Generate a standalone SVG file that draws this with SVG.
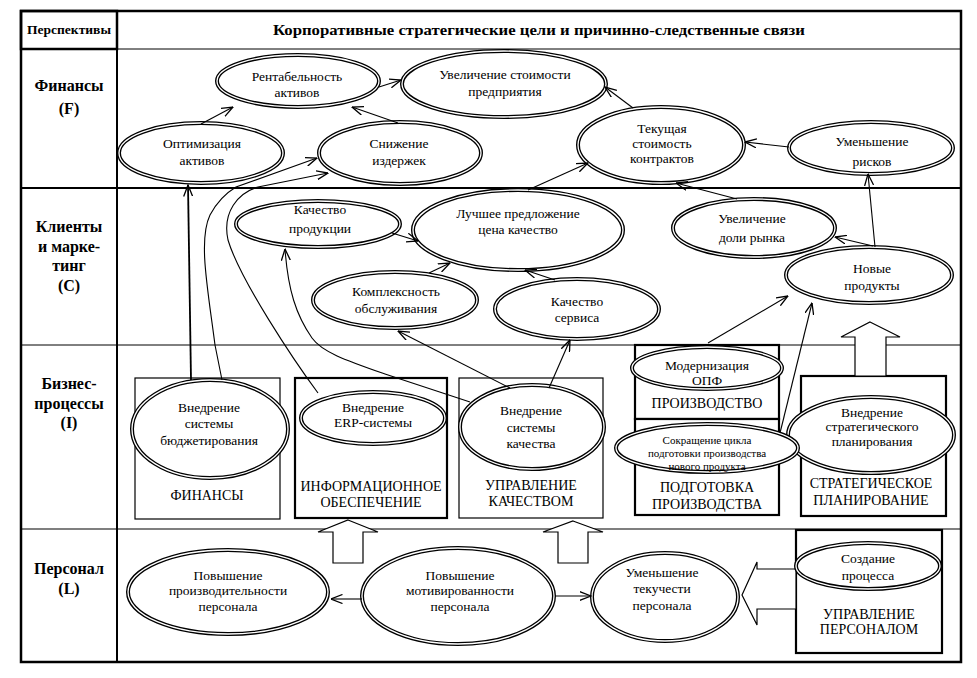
<svg xmlns="http://www.w3.org/2000/svg" width="977" height="678" viewBox="0 0 977 678" font-family="'Liberation Serif','DejaVu Serif','Times New Roman',serif">
<defs>
<style>
text{font-family:'Liberation Serif','DejaVu Serif','Times New Roman',serif;fill:#000;text-anchor:middle}
.t{font-size:13.5px}
.s{font-size:11px}
.u{font-size:14px}
.b{font-size:16px;font-weight:bold}
.eo{fill:#fff;stroke:#000;stroke-width:4}
.ei{fill:none;stroke:#fff;stroke-width:1.3}
.c{fill:none;stroke:#000;stroke-width:1.1;marker-end:url(#ah)}
.bx{fill:#fff;stroke:#000;stroke-width:1.2}
.bxt{fill:#fff;stroke:#000;stroke-width:2.2}
.ba{fill:#fff;stroke:#000;stroke-width:1.2}
.ln{stroke:#000;fill:none}
</style>
<marker id="ah" viewBox="0 0 12 10" refX="11.5" refY="5" markerWidth="12" markerHeight="10" orient="auto" markerUnits="userSpaceOnUse">
<path d="M0,0.5 L11.5,5 L0,9.5" fill="none" stroke="#000" stroke-width="1.3"/>
</marker>
</defs>
<rect width="977" height="678" fill="#fff"/>

<g id="table">
<rect x="21" y="11" width="940" height="651" class="ln" stroke-width="2.5"/>
<rect x="21" y="11" width="96" height="38" class="ln" stroke-width="2.5"/>
<line x1="117" y1="49" x2="961" y2="49" class="ln" stroke-width="1"/>
<line x1="117" y1="49" x2="117" y2="662" class="ln" stroke-width="2"/>
<line x1="21" y1="188" x2="961" y2="188" class="ln" stroke-width="2"/>
<line x1="21" y1="345" x2="961" y2="345" class="ln" stroke-width="1"/>
<line x1="21" y1="529" x2="961" y2="529" class="ln" stroke-width="1.2"/>
<text x="69" y="34" style="font-size:13px;font-weight:bold" textLength="84" lengthAdjust="spacingAndGlyphs">Перспективы</text>
<text x="539" y="35" style="font-size:15.5px;font-weight:bold" textLength="532" lengthAdjust="spacingAndGlyphs">Корпоративные стратегические цели и причинно-следственные связи</text>
<text class="b" x="69" y="91">Финансы</text>
<text class="b" x="69" y="114">(F)</text>
<text class="b" x="69" y="232">Клиенты</text>
<text class="b" x="69" y="252">и марке-</text>
<text class="b" x="69" y="271">тинг</text>
<text class="b" x="69" y="291">(C)</text>
<text class="b" x="69" y="389">Бизнес-</text>
<text class="b" x="69" y="409">процессы</text>
<text class="b" x="69" y="428">(I)</text>
<text class="b" x="69" y="574">Персонал</text>
<text class="b" x="69" y="594">(L)</text>
</g>

<g id="areas">
<g id="box-fin"><rect x="135" y="378" width="145" height="141" class="bx"/><text class="u" x="207" y="500">ФИНАНСЫ</text></g>
<g id="box-info"><rect x="295" y="378" width="152" height="140" class="bxt"/><text class="u" x="371" y="491">ИНФОРМАЦИОННОЕ</text><text class="u" x="371" y="507">ОБЕСПЕЧЕНИЕ</text></g>
<g id="box-qual"><rect x="459" y="378" width="144" height="140" class="bx"/><text class="u" x="531" y="490">УПРАВЛЕНИЕ</text><text class="u" x="531" y="506">КАЧЕСТВОМ</text></g>
<g id="box-prod"><rect x="635" y="345" width="144" height="74" class="bxt"/><text class="u" x="707" y="408">ПРОИЗВОДСТВО</text></g>
<g id="box-prep"><rect x="635" y="419" width="144" height="96" class="bxt"/><text class="u" x="707" y="492">ПОДГОТОВКА</text><text class="u" x="707" y="509">ПРОИЗВОДСТВА</text></g>
<g id="box-strat"><rect x="801" y="376" width="145" height="140" class="bxt"/><text class="u" x="871" y="488">СТРАТЕГИЧЕСКОЕ</text><text class="u" x="871" y="505">ПЛАНИРОВАНИЕ</text></g>
<g id="box-hr"><rect x="796" y="530" width="146" height="123" class="bxt"/><text class="u" x="869" y="619">УПРАВЛЕНИЕ</text><text class="u" x="869" y="634">ПЕРСОНАЛОМ</text></g>
</g>

<g id="block-arrows">
<polygon class="ba" points="348,520 378,532 363,532 363,563 333,563 333,532 318,532"/>
<polygon class="ba" points="573,521 603,532 588,532 588,563 558,563 558,532 543,532"/>
<polygon class="ba" points="870,322 900,337 886,337 886,376 855,376 855,337 841,337"/>
<polygon class="ba" points="742,595 757,562 757,569 796,569 796,609 757,609 757,625"/>
</g>

<g id="n1"><ellipse class="eo" cx="298" cy="81" rx="81" ry="26"/><ellipse class="ei" cx="298" cy="81" rx="81" ry="26"/><text class="t" x="297" y="81">Рентабельность</text><text class="t" x="297" y="97">активов</text></g>
<g id="n2"><ellipse class="eo" cx="504" cy="84" rx="102" ry="33"/><ellipse class="ei" cx="504" cy="84" rx="102" ry="33"/><text class="t" x="505" y="79">Увеличение стоимости</text><text class="t" x="505" y="96">предприятия</text></g>
<g id="n3"><ellipse class="eo" cx="201" cy="153" rx="82" ry="30"/><ellipse class="ei" cx="201" cy="153" rx="82" ry="30"/><text class="t" x="202" y="148">Оптимизация</text><text class="t" x="202" y="165">активов</text></g>
<g id="n4"><ellipse class="eo" cx="400" cy="153" rx="81" ry="31"/><ellipse class="ei" cx="400" cy="153" rx="81" ry="31"/><text class="t" x="399" y="148">Снижение</text><text class="t" x="399" y="165">издержек</text></g>
<g id="n5"><ellipse class="eo" cx="661" cy="145" rx="83" ry="38"/><ellipse class="ei" cx="661" cy="145" rx="83" ry="38"/><text class="t" x="662" y="133">Текущая</text><text class="t" x="662" y="148">стоимость</text><text class="t" x="662" y="163">контрактов</text></g>
<g id="n6"><ellipse class="eo" cx="871" cy="148" rx="82" ry="26"/><ellipse class="ei" cx="871" cy="148" rx="82" ry="26"/><text class="t" x="872" y="146">Уменьшение</text><text class="t" x="872" y="166">рисков</text></g>

<g id="n7"><ellipse class="eo" cx="318" cy="224" rx="82" ry="23"/><ellipse class="ei" cx="318" cy="224" rx="82" ry="23"/><text class="t" x="320" y="214">Качество</text><text class="t" x="320" y="233">продукции</text></g>
<g id="n8"><ellipse class="eo" cx="518" cy="230" rx="105" ry="40"/><ellipse class="ei" cx="518" cy="230" rx="105" ry="40"/><text class="t" x="518" y="218">Лучшее предложение</text><text class="t" x="518" y="234">цена качество</text></g>
<g id="n9"><ellipse class="eo" cx="395" cy="300" rx="82" ry="28"/><ellipse class="ei" cx="395" cy="300" rx="82" ry="28"/><text class="t" x="396" y="296">Комплексность</text><text class="t" x="396" y="313">обслуживания</text></g>
<g id="n10"><ellipse class="eo" cx="577" cy="309" rx="82" ry="30"/><ellipse class="ei" cx="577" cy="309" rx="82" ry="30"/><text class="t" x="577" y="306">Качество</text><text class="t" x="577" y="322">сервиса</text></g>
<g id="n11"><ellipse class="eo" cx="754" cy="228" rx="81" ry="29"/><ellipse class="ei" cx="754" cy="228" rx="81" ry="29"/><text class="t" x="752" y="223">Увеличение</text><text class="t" x="752" y="242">доли рынка</text></g>
<g id="n12"><ellipse class="eo" cx="869" cy="275" rx="83" ry="28"/><ellipse class="ei" cx="869" cy="275" rx="83" ry="28"/><text class="t" x="872" y="273">Новые</text><text class="t" x="872" y="290">продукты</text></g>

<g id="n13"><ellipse class="eo" cx="210" cy="429" rx="78" ry="49"/><ellipse class="ei" cx="210" cy="429" rx="78" ry="49"/><text class="t" x="209" y="412">Внедрение</text><text class="t" x="209" y="428">системы</text><text class="t" x="209" y="445">бюджетирования</text></g>
<g id="n14"><ellipse class="eo" cx="373" cy="418" rx="72" ry="26"/><ellipse class="ei" cx="373" cy="418" rx="72" ry="26"/><text class="t" x="373" y="412">Внедрение</text><text class="t" x="373" y="427">ERP-системы</text></g>
<g id="n15"><ellipse class="eo" cx="532" cy="427" rx="72" ry="42"/><ellipse class="ei" cx="532" cy="427" rx="72" ry="42"/><text class="t" x="531" y="415">Внедрение</text><text class="t" x="531" y="432">системы</text><text class="t" x="531" y="448">качества</text></g>
<g id="n16"><ellipse class="eo" cx="707" cy="368" rx="75" ry="21"/><ellipse class="ei" cx="707" cy="368" rx="75" ry="21"/><text class="t" x="707" y="370">Модернизация</text><text class="t" x="707" y="385">ОПФ</text></g>
<g id="n18"><ellipse class="eo" cx="871" cy="435" rx="83" ry="38"/><ellipse class="ei" cx="871" cy="435" rx="83" ry="38"/><text class="t" x="872" y="417">Внедрение</text><text class="t" x="872" y="431">стратегического</text><text class="t" x="872" y="446">планирования</text></g>
<g id="n17"><ellipse class="eo" cx="707" cy="448" rx="91" ry="24"/><ellipse class="ei" cx="707" cy="448" rx="91" ry="24"/><text class="s" x="707" y="444">Сокращение цикла</text><text class="s" x="707" y="457">подготовки производства</text><text class="s" x="707" y="470">нового продукта</text></g>

<g id="n19"><ellipse class="eo" cx="228" cy="592" rx="100" ry="42"/><ellipse class="ei" cx="228" cy="592" rx="100" ry="42"/><text class="t" x="228" y="580">Повышение</text><text class="t" x="228" y="595">производительности</text><text class="t" x="228" y="611">персонала</text></g>
<g id="n20"><ellipse class="eo" cx="458" cy="596" rx="96" ry="48"/><ellipse class="ei" cx="458" cy="596" rx="96" ry="48"/><text class="t" x="460" y="580">Повышение</text><text class="t" x="460" y="595">мотивированности</text><text class="t" x="460" y="611">персонала</text></g>
<g id="n21"><ellipse class="eo" cx="665" cy="597" rx="73" ry="44"/><ellipse class="ei" cx="665" cy="597" rx="73" ry="44"/><text class="t" x="662" y="577">Уменьшение</text><text class="t" x="662" y="593">текучести</text><text class="t" x="662" y="610">персонала</text></g>
<g id="n22"><ellipse class="eo" cx="868" cy="566" rx="72" ry="23"/><ellipse class="ei" cx="868" cy="566" rx="72" ry="23"/><text class="t" x="868" y="563">Создание</text><text class="t" x="868" y="580">процесса</text></g>

<g id="connectors">
<path class="c" d="M201,124 L233,107"/>
<path class="c" d="M379,87 L401,80"/>
<path class="c" d="M398,123 L352,107"/>
<path class="c" d="M633,108 L605,87"/>
<path class="c" d="M789,147 L745,142"/>
<path class="c" d="M528,190 L588,163"/>
<path class="c" d="M737,199 L676,183"/>
<path class="c" d="M875,247 L868,174"/>
<path class="c" d="M873,246 L835,237"/>
<path class="c" d="M392,233 L418,241"/>
<path class="c" d="M429,273 L450,263"/>
<path class="c" d="M555,280 L525,270"/>
<path class="c" style="stroke-width:1.8" d="M191,380 L188,185"/>
<path class="c" d="M222,380 L215,345 C208,290 198,240 210,215 C218,200 226,193 236,187 L317,158"/>
<path class="c" d="M318,393 C295,362 240,280 228,240 C222,212 238,193 258,187 L328,173"/>
<path class="c" d="M470,402 L385,374 C345,360 322,352 312,338 C296,315 288,290 285,249"/>
<path class="c" d="M510,388 L398,331"/>
<path class="c" d="M549,388 L570,340"/>
<path class="c" d="M708,343 L788,296"/>
<path class="c" d="M780,433 L812,303"/>
<path class="c" d="M362,599 L331,599"/>
<path class="c" d="M555,596 L591,596"/>
</g>
</svg>
